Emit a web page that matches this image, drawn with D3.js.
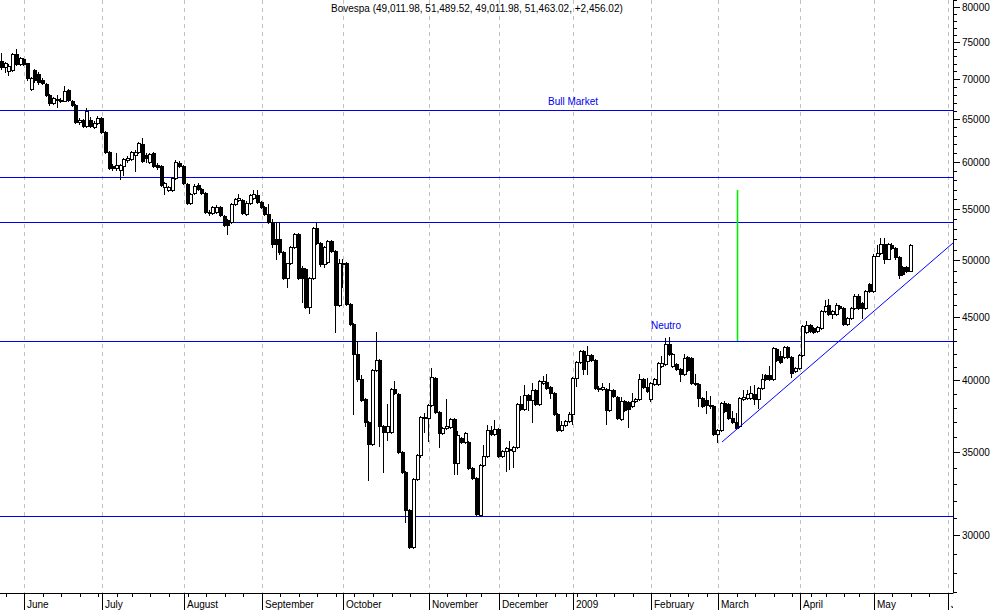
<!DOCTYPE html>
<html><head><meta charset="utf-8">
<script src="https://cdn.jsdelivr.net/npm/d3@7"></script>
<style>
body{margin:0;background:#fff}
svg{display:block}
text{font-family:"Liberation Sans",Arial,sans-serif;font-size:10px;fill:#000}
</style>
</head><body>
<svg id="c" width="994" height="610"></svg>
<script>
// ---------------- DATA ----------------
const title = "Bovespa (49,011.98, 51,489.52, 49,011.98, 51,463.02, +2,456.02)";
const firstDay = "2008-05-23", calendarEnd = "2009-06-05";
const holidays = ["2008-07-09","2008-11-20","2008-12-24","2008-12-25","2008-12-31","2009-01-01",
  "2009-02-23","2009-02-24","2009-04-10","2009-04-21","2009-05-01"];
const monthLabels = ["June","July","August","September","October","November","December","2009",
  "February","March","April","May","June"];

const open = [72360,71550,71020,71150,73300,71950,72630,72090,68690,71150,
70630,69850,69330,67920,66920,67300,67300,67250,68560,67170,
66670,64600,64840,64120,64840,64000,64480,65080,63410,61090,
59520,59300,59080,59520,60190,60300,60750,61090,62010,60750,
59970,60980,59640,59520,57240,56920,56920,58210,59860,59520,
57560,55570,56610,57460,57030,56610,54640,54540,54640,55150,
54240,53840,53640,55460,55880,55880,54440,55570,56080,56400,
55670,55150,54440,53640,51970,51970,50730,48420,49700,51200,
52450,49330,49150,45880,48420,53040,51580,49610,49880,51780,
50820,46050,49790,49790,46140,44450,42040,40130,38670,37050,
35560,40810,41570,36770,36370,36370,39390,39030,35040,33760,
31460,29360,33320,34840,37320,37320,38240,40210,37740,36300,
36640,36700,37250,34330,35960,35700,35700,34010,33380,31160,
34200,34780,36500,36230,36570,34780,35100,35170,35100,35370,
38310,37950,38960,38600,39320,38310,39830,39910,39540,39100,
37600,36500,36840,37120,37600,40210,41420,42270,41500,41960,
41570,39470,39390,39390,37880,39320,38810,37250,38520,38450,
38170,38520,38670,40130,39540,38670,39760,39760,41110,41270,
42830,41110,41270,40880,40510,41810,41730,39830,39760,38740,
38600,38240,38170,36230,36500,38380,38310,37320,37050,36770,
38670,38740,38740,39030,38670,39470,40430,40430,40130,42430,
41880,41810,42590,41810,40730,40960,41960,43800,44370,44120,
43880,44120,45540,46050,45290,45290,45970,45800,44450,44950,
45800,46830,46220,45800,47880,47260,50440,50630,51490,50160,
51390,51110,50260,49420,49420,49011.98];

const high = [73440,72220,71950,73440,73990,72900,72760,72150,70240,71290,
70890,70110,69460,68050,67670,67920,67550,69070,68690,67300,
66800,65080,64960,66300,65200,64720,65320,65200,63530,61210,
59750,60980,59750,60420,60640,61210,61320,62240,62700,60980,
60980,61090,59860,59640,57780,57350,58320,60190,60080,59640,
57670,56610,57560,57670,57140,56710,54850,55260,55360,55260,
54340,53940,55570,56080,56500,55980,55770,56500,56920,56920,
55770,55260,55460,53940,53640,53640,50820,49790,51300,52550,
52550,49510,49240,48510,53140,53540,51680,51300,51870,51870,
50920,50160,50160,49880,46220,44540,43070,40430,38740,37120,
40880,43800,41650,36840,38310,39470,39980,39100,35100,33820,
31510,33380,34910,37460,37670,38310,40960,40280,37810,36700,
38670,37320,37320,36430,36030,36370,35760,34070,33440,34260,
35490,36840,36770,37190,36640,35170,35370,35760,35430,38380,
38880,39690,39030,39830,39390,40060,40360,40510,39610,39170,
37670,37120,37190,37740,40280,41500,42350,42350,42670,42040,
41650,39610,39830,39470,39830,39390,38880,38810,38600,38520,
39100,38740,40510,40210,40210,39910,40210,41420,41880,43310,
43390,42120,41340,40960,42040,41880,41810,40510,39830,38810,
39250,38880,38240,36570,38450,38520,38380,37810,37670,38810,
39320,39320,39610,39690,39540,40510,40510,41110,42590,42510,
42270,42670,42670,41880,41040,42040,44370,44700,44450,44210,
44290,45630,46400,46570,45630,46220,46050,45880,45030,45880,
47000,46920,46310,47350,47970,50540,51390,52070,52070,51580,
51580,51200,50350,49510,49510,51489.52];

const low = [71290,70890,70500,71020,71900,71900,71820,69850,68600,69590,
69330,69330,67800,66670,66800,66430,67050,67170,67170,66550,
64480,64360,64000,64000,64000,63880,64360,63290,60980,59190,
59080,59080,58100,58530,59970,60190,58970,60980,59970,59970,
59860,59410,59190,57350,56500,56820,56820,58100,59410,57560,
55460,55460,56500,56920,56500,54540,54340,54440,54540,54240,
53240,52450,53540,55360,55770,54440,54340,55460,55980,55570,
55050,54340,53540,51200,50160,50540,48330,47620,49610,51110,
48330,46310,45800,45370,48330,51490,49510,49420,49790,50730,
43800,45970,47620,46050,44370,37600,39980,38520,36770,33260,
35490,40730,35430,33760,35830,36300,39030,34970,33700,30760,
29310,29310,33260,34710,36370,35760,38170,37670,35370,36230,
36570,36640,33630,33630,35630,35630,33950,33320,31160,31100,
34140,34710,36160,36160,34710,34710,33820,33950,34070,35300,
37880,37880,37880,37050,38240,38240,39760,39390,38740,37530,
36430,36430,36770,37050,36910,39610,41340,40510,40510,41500,
39390,39250,39320,36910,37810,38810,37250,37190,37810,36700,
38100,38450,38600,39470,39170,38520,39690,39690,41040,41190,
41960,41040,40810,39980,40430,40730,39760,39690,38170,38100,
37670,38020,36160,35700,36430,37740,37250,36980,36570,36700,
38600,38670,38670,38310,38020,39390,40060,40060,40060,41500,
41340,41730,41730,40280,40660,40880,41880,43720,43800,43720,
43800,44040,45460,45200,44950,45200,45710,44370,44370,44870,
45710,45710,44950,45710,47180,47180,50350,50540,49700,50070,
51010,50160,48420,48690,48880,49011.98];

const close = [71550,72090,71690,73300,71950,72760,71950,70110,70110,69850,
69590,69460,67920,66920,67550,67420,67250,68430,67300,66670,
64600,64840,64120,65930,64120,64480,65080,63410,61090,59300,
59300,59640,59640,60300,60420,61090,61090,62120,60080,60420,
60870,59520,59410,57460,57670,57240,58210,59970,59520,57670,
55570,56500,57350,57030,56610,54640,54540,55150,55150,54340,
53340,53340,55460,55980,56080,54540,55570,56400,56500,55670,
55150,54440,53640,51490,51490,50730,48420,49700,51200,52450,
48420,48420,45880,48420,53040,51580,49610,51200,51780,50820,
46050,49700,49610,46140,44450,42040,40130,38600,37050,35560,
40810,41570,36770,36370,36770,39390,39100,35040,33760,31460,
29360,33320,34840,37390,37390,38240,40280,37740,36300,36640,
36770,37250,34330,36160,35700,36300,34010,33380,31220,34200,
34780,36500,36230,36570,34780,35100,35300,35230,35370,38310,
37950,38960,38600,39320,38310,39980,39980,39470,39100,37600,
36500,36840,37120,37600,40210,41420,42270,40880,41960,41570,
39470,39390,39540,37880,39320,38880,37320,38520,37880,37950,
38520,38670,40130,39540,39250,39830,40130,41340,41340,42830,
42040,42040,40880,40510,41730,40810,39830,39760,38740,38170,
38240,38170,36230,36500,38380,37810,37320,37050,36640,38740,
38810,39030,39100,38670,39470,40130,40130,40130,42510,41570,
41420,42590,41810,40580,40960,41960,44290,44370,43880,43800,
44210,45540,45970,45290,45540,46050,45800,44450,44950,45800,
46830,45800,45800,47260,47260,50440,50630,51490,50160,51490,
51110,50260,48690,48780,49007,51463.02];

// horizontal support / resistance levels
const levels = [66060, 58320, 53640, 43000, 31100];
// text annotations: [text, trading-day index, price level of baseline]
const annotations = [["Bull Market", 154, 66670], ["Neutro", 179, 44040]];
// rising trendline anchors: [trading-day index, price]
const trendline = [[194, 35650], [245, 48240]];
// green target bar: [trading-day index, top price, bottom price]
const target = [198, 56920, 43000];
const yMajor = [30000,35000,40000,45000,50000,55000,60000,65000,70000,75000,80000];
const yMinor = d3.range(27000, 81001, 1000);

// ---------------- CHART ----------------
const W = 994, H = 610, PR = 953, PB = 593;
const svg = d3.select("#c");
svg.append("rect").attr("width", W).attr("height", H).attr("fill", "#fff");

// trading calendar
const hol = new Set(holidays);
const cal = d3.utcDays(new Date(firstDay + "T00:00:00Z"), new Date(calendarEnd + "T12:00:00Z"))
  .filter(d => d.getUTCDay() !== 0 && d.getUTCDay() !== 6 && !hol.has(d3.utcFormat("%Y-%m-%d")(d)));
const monthIdx = [], weekIdx = [];
for (let i = 1; i < cal.length; i++) {
  if (cal[i].getUTCMonth() !== cal[i - 1].getUTCMonth()) monthIdx.push(i);
  else if (+d3.utcMonday.floor(cal[i]) !== +d3.utcMonday.floor(cal[i - 1])) weekIdx.push(i);
}
const monthTicks = monthIdx.slice(0, monthLabels.length);

const x = d3.scaleLinear().domain([monthTicks[0], monthTicks[monthTicks.length - 1]]).rangeRound([24.3, 948]);
const y = d3.scaleLog().domain([26960, 81050]).rangeRound([PB, 0]);

const defs = svg.append("defs");
defs.append("clipPath").attr("id", "plot").append("rect").attr("x", 0).attr("y", 0).attr("width", PR).attr("height", PB);
defs.append("clipPath").attr("id", "xl").append("rect").attr("x", -2).attr("y", 0).attr("width", PR + 2).attr("height", H - PB);

// month gridlines
svg.append("g").attr("class", "grid").selectAll("line").data(monthTicks).join("line")
  .attr("x1", d => x(d) + 0.5).attr("x2", d => x(d) + 0.5)
  .attr("y1", 0).attr("y2", PB)
  .attr("stroke", "#c0c0c0").attr("stroke-dasharray", "4,4");

// title
svg.append("text").attr("x", 331).attr("y", 12).text(title);

const plot = svg.append("g").attr("clip-path", "url(#plot)");

// level lines
plot.append("g").selectAll("line").data(levels).join("line")
  .attr("x1", 0).attr("x2", PR)
  .attr("y1", d => y(d) + 0.5).attr("y2", d => y(d) + 0.5)
  .attr("stroke", "#0000ee").attr("stroke-width", 1);

plot.append("g").selectAll("text").data(annotations).join("text")
  .attr("x", d => x(d[1])).attr("y", d => y(d[2]))
  .attr("text-anchor", "middle").style("fill", "#0000ee").text(d => d[0]);

// green target bar
plot.append("line")
  .attr("x1", x(target[0]) + 0.5).attr("x2", x(target[0]) + 0.5)
  .attr("y1", y(target[1])).attr("y2", y(target[2]))
  .attr("stroke", "#00ee00").attr("stroke-width", 1.6);

// candles
const data = open.map((o, i) => ({i, o, h: high[i], l: low[i], c: close[i]}));
const cg = plot.append("g").attr("shape-rendering", "crispEdges");
cg.selectAll("line").data(data).join("line")
  .attr("x1", d => x(d.i) - 0.5).attr("x2", d => x(d.i) - 0.5)
  .attr("y1", d => y(d.h)).attr("y2", d => y(d.l) + 1)
  .attr("stroke", "#000");
cg.selectAll("rect").data(data).join("rect")
  .attr("x", d => x(d.i) - 1.5)
  .attr("y", d => y(Math.max(d.o, d.c)) + 0.5)
  .attr("width", 3)
  .attr("height", d => Math.max(0, y(Math.min(d.o, d.c)) - y(Math.max(d.o, d.c))))
  .attr("fill", d => d.c >= d.o ? "#fff" : "#000")
  .attr("stroke", "#000");

// trendline, extended to the right edge of the plot
const ty = d3.scaleLinear().domain([trendline[0][0], trendline[1][0]])
  .range([Math.log(trendline[0][1]), Math.log(trendline[1][1])]);
const tEnd = x.invert(PR);
plot.append("line")
  .attr("x1", x(trendline[0][0])).attr("y1", y(trendline[0][1]))
  .attr("x2", PR).attr("y2", y(Math.exp(ty(tEnd))))
  .attr("stroke", "#0000ff").attr("stroke-width", 1);

// x axis
const xg = svg.append("g").attr("transform", `translate(0,${PB})`);
xg.append("line").attr("x1", 0).attr("x2", PR).attr("y1", 0.5).attr("y2", 0.5).attr("stroke", "#000");
const xMajor = d3.axisBottom(x).tickValues(monthTicks).tickSize(H - PB).tickSizeOuter(0)
  .tickFormat((d, k) => monthLabels[k]);
const xM = xg.append("g").attr("clip-path", "url(#xl)").call(xMajor);
xM.select(".domain").remove();
xM.attr("font-family", null).attr("font-size", null);
xM.selectAll("text").attr("text-anchor", "start").attr("x", 2.5).attr("y", 15).attr("dy", null);
const xMin = d3.axisBottom(x).tickValues(weekIdx).tickSize(4).tickSizeOuter(0).tickFormat("");
const xm = xg.append("g").call(xMin);
xm.select(".domain").remove();

// right axis
const yg = svg.append("g").attr("transform", `translate(${PR},0)`);
const yMin = d3.axisRight(y).tickValues(yMinor.filter(v => v > 26960 && v < 81050)).tickSize(4).tickSizeOuter(0).tickFormat("");
yg.append("g").call(yMin).select(".domain").remove();
const yMaj = d3.axisRight(y).tickValues(yMajor).tickSize(7).tickPadding(2).tickSizeOuter(0).tickFormat(d3.format("d"));
const yM = yg.append("g").call(yMaj);
yM.attr("font-family", null).attr("font-size", null);
</script>
</body></html>
